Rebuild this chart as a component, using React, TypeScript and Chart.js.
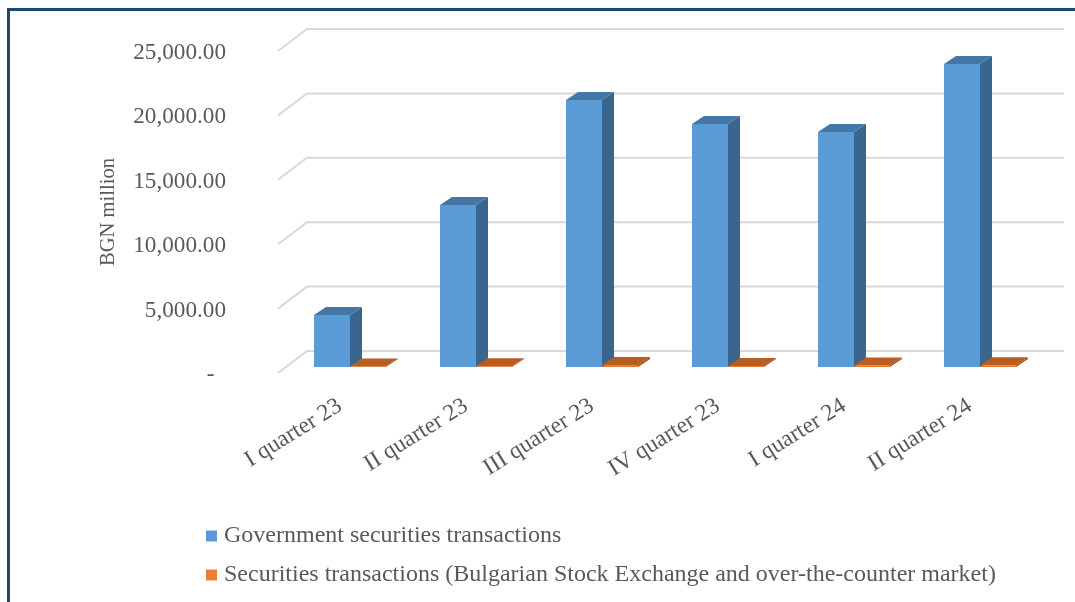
import React, { useEffect, useRef } from "react";
import { Chart, registerables } from "chart.js";

Chart.register(...registerables);

const categories = ["I quarter 23", "II quarter 23", "III quarter 23", "IV quarter 23", "I quarter 24", "II quarter 24"];
const governmentValues = [4040, 12580, 20730, 18870, 18250, 23520];
const securitiesValues = [40, 60, 150, 70, 110, 140];
const seriesNames = [
  "Government securities transactions",
  "Securities transactions (Bulgarian Stock Exchange and over-the-counter market)",
];
const TEXT = "#595959";
const FONT = "'Liberation Serif'";

const faces = [
  { front: "#5B9BD5", top: "#4476A6", side: "#39658E" },
  { front: "#ED7D31", top: "#B85E20", side: "#9A4F1A" },
];

const DEPTH_X = 12;
const DEPTH_Y = 8;
const PLANE_SHIFT = 6;

const poly = (ctx: CanvasRenderingContext2D, pts: number[][], fill: string) => {
  ctx.beginPath();
  pts.forEach(([x, y], i) => (i ? ctx.lineTo(x, y) : ctx.moveTo(x, y)));
  ctx.closePath();
  ctx.fillStyle = fill;
  ctx.fill();
};

const wallPlugin = {
  id: "wall",
  beforeDatasetsDraw(chart: any) {
    const { ctx, scales, chartArea } = chart;
    const y = scales.y;
    ctx.save();
    ctx.strokeStyle = "#D9D9D9";
    ctx.lineWidth = 2;
    for (const t of y.ticks) {
      const py = y.getPixelForValue(t.value);
      ctx.beginPath();
      ctx.moveTo(chartArea.left - 9, py);
      ctx.lineTo(chartArea.left + 20, py - 22);
      ctx.lineTo(chartArea.right + 21, py - 22);
      ctx.stroke();
    }
    ctx.restore();
    ctx.save();
    ctx.translate(0, -PLANE_SHIFT);
  },
  afterDatasetsDraw(chart: any) {
    const { ctx } = chart;
    chart.data.datasets.forEach((_: any, di: number) => {
      const c = faces[di];
      chart.getDatasetMeta(di).data.forEach((el: any) => {
        const l = el.x - el.width / 2;
        const r = el.x + el.width / 2;
        const t = el.y;
        const b = el.base;
        poly(ctx, [[r, t], [r + DEPTH_X, t - DEPTH_Y], [r + DEPTH_X, b - DEPTH_Y], [r, b]], c.side);
        poly(ctx, [[l, t], [l + DEPTH_X, t - DEPTH_Y], [r + DEPTH_X, t - DEPTH_Y], [r, t]], c.top);
      });
    });
    ctx.restore();
  },
};

export default function App() {
  const ref = useRef<HTMLCanvasElement>(null);
  useEffect(() => {
    const chart = new Chart(ref.current!, {
      type: "bar",
      plugins: [wallPlugin],
      data: {
        labels: categories,
        datasets: [
          { label: seriesNames[0], data: governmentValues, backgroundColor: faces[0].front },
          { label: seriesNames[1], data: securitiesValues, backgroundColor: faces[1].front },
        ],
      },
      options: {
        animation: false,
        responsive: false,
        layout: { padding: { left: 196, right: 32, top: 51, bottom: 5 } },
        datasets: { bar: { categoryPercentage: 0.5714, barPercentage: 1 } },
        plugins: {
          tooltip: { enabled: false },
          legend: {
            position: "bottom",
            align: "start",
            labels: {
              usePointStyle: true,
              pointStyle: "rect",
              boxWidth: 1,
              boxHeight: 11,
              padding: 15,
              color: TEXT,
              font: { family: FONT, size: 24 },
            },
          },
        },
        scales: {
          x: {
            grid: { display: false },
            border: { display: false },
            afterFit(s: any) {
              s.height = 136;
              s.paddingLeft = 0;
              s.paddingRight = 0;
            },
            ticks: {
              autoSkip: false,
              minRotation: 32,
              maxRotation: 32,
              padding: 11,
              labelOffset: -10,
              color: TEXT,
              font: { family: FONT, size: 23.5 },
            },
          },
          y: {
            min: 0,
            max: 25000,
            grid: { display: false, drawTicks: false },
            border: { display: false },
            afterFit(s: any) {
              s.width = 91;
              s.paddingTop = 0;
              s.paddingBottom = 0;
              s._computeLabelArea = () => undefined;
            },
            title: {
              display: true,
              text: "BGN million",
              color: TEXT,
              padding: { top: -99.4, bottom: 0 },
              font: { family: FONT, size: 20.6 },
            },
            ticks: {
              stepSize: 5000,
              padding: 61,
              labelOffset: 2,
              color: TEXT,
              font: { family: FONT, size: 23.2 },
              callback: (v: any) =>
                v === 0 ? "-  " : Number(v).toLocaleString("en-US", { minimumFractionDigits: 2 }),
            },
          },
        },
      },
    } as any);
    return () => chart.destroy();
  }, []);
  return (
    <div style={{ position: "fixed", left: 0, top: 0, width: 1075, height: 602, background: "#fff", overflow: "hidden" }}>
      <canvas ref={ref} width={1075} height={602} style={{ position: "absolute", left: 0, top: 0, display: "block" }} />
      <div style={{ position: "absolute", left: 7, top: 8, right: 0, bottom: 0, borderLeft: "3px solid #1F4A6E", borderTop: "3px solid #1F4A6E" }} />
    </div>
  );
}
